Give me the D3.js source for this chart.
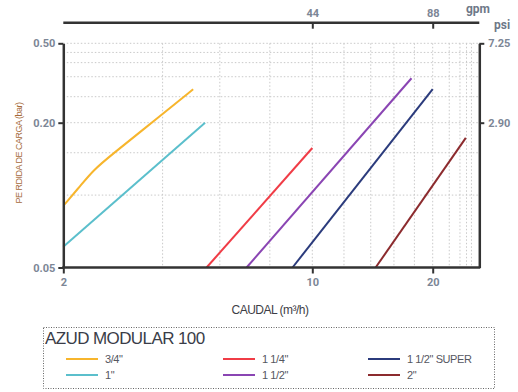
<!DOCTYPE html>
<html>
<head>
<meta charset="utf-8">
<script src="https://cdn.jsdelivr.net/npm/d3@7"></script>
<style>
  body { margin: 0; background: #fff; }
  text { font-family: "Liberation Sans Narrow", "Liberation Sans", sans-serif; }
</style>
</head>
<body>
<div id="container"></div>
<script>
// axis values (scan is not a pure log scale, so piecewise log)
const xKnots = [2, 10, 20];
const yKnots = [0.05, 0.2, 0.5];
const xTicks = [2, 10, 20];
const yTicks = [0.05, 0.2, 0.5];
const gpmTicks = [44, 88];
const xGrid = [3.8, 5.5, 7.6, 10, 12, 14, 16, 18, 20, 22, 23.4, 24.3, 25];
const yGrid = [0.1, 0.15, 0.2, 0.27, 0.34, 0.4, 0.45, 0.5];

// series: flow (m3/h) and head loss (bar)
const names = ['3/4"', '1"', '1 1/4"', '1 1/2"', '1 1/2" SUPER', '2"'];
const colors = ["#f7b52c", "#5bbfcc", "#f03c46", "#8a45b3", "#2b3b7c", "#8c2b2e"];
const flows = [
    [2.01, 2.23, 2.43, 2.70, 3.74, 4.63],
    [2.0, 5.0],
    [5.05, 10.0],
    [6.54, 17.7],
    [8.8, 20.0],
    [14.4, 24.2]
];
const losses = [
    [0.091, 0.109, 0.127, 0.145, 0.216, 0.294],
    [0.061, 0.2],
    [0.05, 0.157],
    [0.05, 0.334],
    [0.05, 0.295],
    [0.05, 0.173]
];

function draw() {
    const width = 518;
    const height = 392;

    const left = 63.3, right = 479.3, top = 43.3, bottom = 267.5;

    const svg = d3.select('#container')
        .append('svg')
        .attr('width', width)
        .attr('height', height);

    const x = d3.scaleLog().domain(xKnots).range([left, 312.3, 432.7]);
    const y = d3.scaleLog().domain(yKnots).range([bottom, 122.7, top]);

    // grid
    const grid = svg.append("g")
        .attr("stroke", "#c9c9c9")
        .attr("stroke-width", 1)
        .attr("stroke-dasharray", "1.5,2");
    grid.selectAll(".vg").data(xGrid).join("line")
        .attr("x1", d => x(d)).attr("x2", d => x(d))
        .attr("y1", top).attr("y2", bottom);
    grid.selectAll(".hg").data(yGrid).join("line")
        .attr("x1", left).attr("x2", right)
        .attr("y1", d => y(d)).attr("y2", d => y(d));

    // curves
    const line = d3.line().x(d => x(d[0])).y(d => y(d[1])).curve(d3.curveBasis);
    names.forEach((n, i) => {
        svg.append("path")
            .datum(flows[i].map((f, j) => [f, losses[i][j]]))
            .attr("d", line)
            .attr("fill", "none")
            .attr("stroke", colors[i])
            .attr("stroke-width", 2);
    });

    const tickColor = "#7c8696";
    function styleAxis(g) {
        g.select(".domain").attr("stroke", "#333").attr("stroke-width", 2.5);
        g.selectAll(".tick line").attr("stroke", "#333").attr("stroke-width", 2);
        g.selectAll(".tick text")
            .attr("fill", tickColor)
            .style("font-family", "Roboto, sans-serif")
            .style("font-weight", "bold")
            .style("font-size", "11px");
    }

    svg.append("g")
        .attr("transform", `translate(${left},0)`)
        .call(d3.axisLeft(y).tickValues(yTicks).tickFormat(d3.format(".2f")).tickSize(5).tickSizeOuter(0))
        .call(styleAxis);

    svg.append("g")
        .attr("transform", `translate(${right},0)`)
        .call(d3.axisRight(y).tickValues([0.2, 0.5]).tickFormat(d => d3.format(".2f")(d * 14.5)).tickSize(5).tickSizeOuter(0))
        .call(styleAxis)
        .selectAll(".tick text").attr("x", 9);

    const xAxis = svg.append("g")
        .attr("transform", `translate(0,${bottom})`)
        .call(d3.axisBottom(x).tickValues(xTicks).tickFormat(d3.format("d")).tickSize(6).tickSizeOuter(0))
        .call(styleAxis);
    xAxis.select(".domain").attr("d", `M${left - 1},0H${right + 1}`);
    xAxis.selectAll(".tick text").attr("y", 11);

    // top gpm axis
    const xg = x.copy().domain(xKnots.map(d => d * 4.4));
    const gAxis = svg.append("g")
        .attr("transform", "translate(0,22.7)")
        .call(d3.axisTop(xg).tickValues(gpmTicks).tickSize(-6).tickSizeOuter(0))
        .call(styleAxis);
    gAxis.select(".domain").attr("d", `M${left},0H${right}`);
    gAxis.selectAll(".tick text").attr("y", -6);

    svg.append("text").text("gpm")
        .attr("x", 490).attr("y", 13)
        .attr("text-anchor", "end")
        .attr("fill", "#6e7888")
        .style("font-family", "Roboto, sans-serif")
        .style("font-weight", "bold")
        .style("font-size", "12px");
    svg.append("text").text("psi")
        .attr("x", 494).attr("y", 29)
        .attr("fill", "#6e7888")
        .style("font-family", "Roboto, sans-serif")
        .style("font-weight", "bold")
        .style("font-size", "12px");

    // axis titles
    svg.append("text").text("CAUDAL (m³/h)")
        .attr("x", 270).attr("y", 314)
        .attr("text-anchor", "middle")
        .attr("fill", "#3d3d45")
        .style("font-size", "12px")
        .style("letter-spacing", "-0.5px");
    svg.append("text").text("PE RDIDA DE CARGA (bar)")
        .attr("transform", "translate(22,153) rotate(-90)")
        .attr("text-anchor", "middle")
        .attr("fill", "#a56a3a")
        .style("font-size", "9px")
        .style("letter-spacing", "-0.5px");

    // legend
    const lg = svg.append("g");
    lg.append("rect")
        .attr("x", 43.5).attr("y", 327.5)
        .attr("width", 451).attr("height", 61)
        .attr("fill", "none")
        .attr("stroke", "#666")
        .attr("stroke-width", 1)
        .attr("stroke-dasharray", "1,1.5");
    lg.append("text").text("AZUD MODULAR 100")
        .attr("x", 45).attr("y", 344)
        .attr("fill", "#3a3d48")
        .style("font-size", "17px")
        .style("letter-spacing", "-0.6px");

    const colX = [66, 223, 368];
    const rowY = [359, 375];
    names.forEach((n, k) => {
        const cx = colX[Math.floor(k / 2)];
        const cy = rowY[k % 2];
        lg.append("line")
            .attr("x1", cx).attr("x2", cx + 32)
            .attr("y1", cy).attr("y2", cy)
            .attr("stroke", colors[k]).attr("stroke-width", 2);
        lg.append("text").text(n)
            .attr("x", cx + 39).attr("y", cy + 4)
            .attr("fill", "#55575f")
            .style("font-size", "11px")
            .style("letter-spacing", "-0.4px");
    });
}
draw();
</script>
</body>
</html>
